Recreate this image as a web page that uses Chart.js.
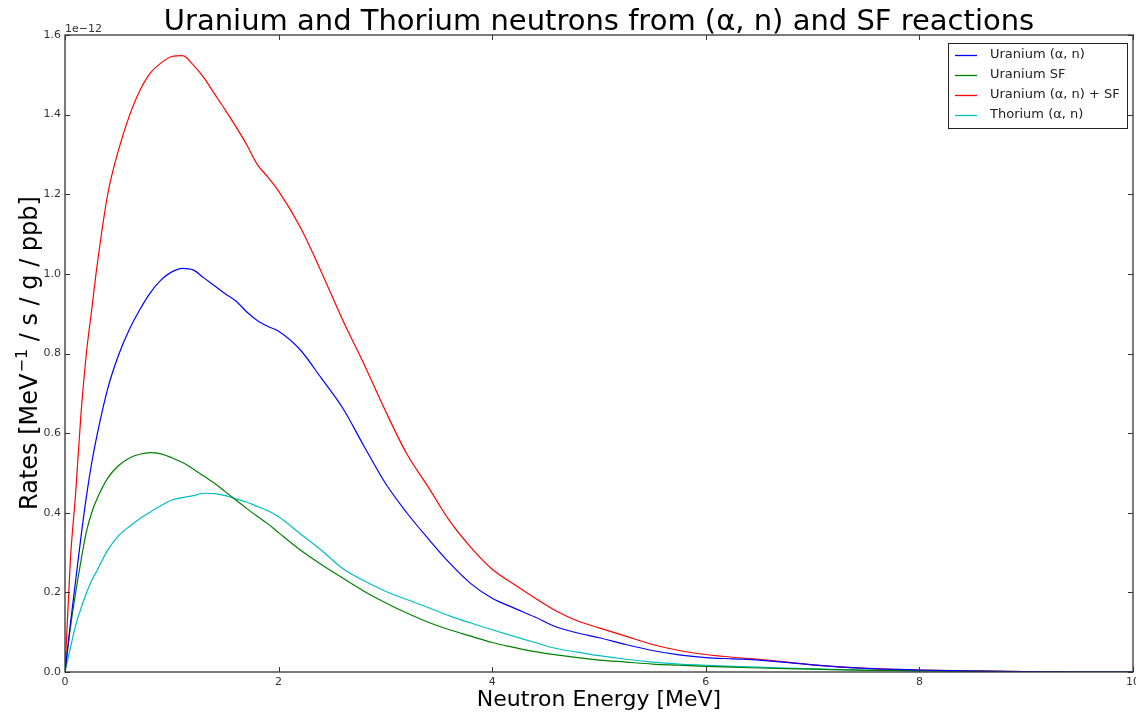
<!DOCTYPE html>
<html>
<head>
<meta charset="utf-8">
<script src="https://cdn.jsdelivr.net/npm/chart.js@4"></script>
<style>
  html, body { margin: 0; padding: 0; background: #fff; }
  #chart { display: block; }
</style>
</head>
<body>
<canvas id="chart" width="1136" height="712"></canvas>
<script>
// neutron energy in MeV
const energy = [0, 0.05, 0.1, 0.15, 0.2, 0.25, 0.3, 0.4, 0.5, 0.6, 0.7, 0.8, 0.9, 1.0, 1.1, 1.2, 1.3, 1.4, 1.5, 1.6, 1.7, 1.8, 1.9, 2.0,
  2.2, 2.4, 2.6, 2.8, 3.0, 3.2, 3.4, 3.6, 3.8, 4.0, 4.2, 4.4, 4.6, 4.8, 5.0, 5.25, 5.5, 5.75, 6.0, 6.25, 6.5, 7.0, 7.5, 8.0, 8.5, 9.0, 9.5, 10];

// rates in units of 1e-12 MeV^-1 / s / g / ppb
const uraniumAlphaN = [0, 0.12, 0.23, 0.34, 0.44, 0.525, 0.595, 0.712, 0.795, 0.859, 0.91, 0.953, 0.985, 1.005, 1.014, 1.01, 0.99, 0.97, 0.95, 0.932, 0.905, 0.883, 0.868, 0.856,
  0.81, 0.738, 0.663, 0.567, 0.474, 0.40, 0.335, 0.274, 0.222, 0.185, 0.161, 0.138, 0.113, 0.098, 0.086, 0.069, 0.054, 0.043, 0.036, 0.033, 0.030, 0.018, 0.009, 0.005, 0.002, 0.001, 0, 0];
const uraniumSF = [0, 0.11, 0.2, 0.28, 0.352, 0.40, 0.435, 0.487, 0.518, 0.537, 0.547, 0.551, 0.548, 0.538, 0.526, 0.51, 0.492, 0.474, 0.453, 0.432, 0.411, 0.391, 0.372, 0.35,
  0.307, 0.27, 0.236, 0.203, 0.174, 0.148, 0.125, 0.106, 0.09, 0.074, 0.062, 0.051, 0.043, 0.036, 0.030, 0.025, 0.020, 0.017, 0.014, 0.012, 0.010, 0.007, 0.004, 0.003, 0.002, 0.001, 0, 0];
const uraniumTotal = [0, 0.28, 0.45, 0.65, 0.80, 0.91, 1.02, 1.20, 1.31, 1.395, 1.46, 1.505, 1.53, 1.546, 1.548, 1.525, 1.493, 1.452, 1.412, 1.37, 1.325, 1.275, 1.243, 1.208,
  1.119, 1.005, 0.884, 0.773, 0.656, 0.548, 0.465, 0.38, 0.313, 0.258, 0.221, 0.186, 0.153, 0.128, 0.111, 0.09, 0.069, 0.054, 0.044, 0.037, 0.032, 0.018, 0.009, 0.005, 0.003, 0.001, 0, 0];
const thoriumAlphaN = [0, 0.06, 0.117, 0.16, 0.198, 0.23, 0.255, 0.306, 0.342, 0.365, 0.385, 0.402, 0.418, 0.432, 0.438, 0.443, 0.449, 0.448, 0.443, 0.435, 0.427, 0.416, 0.405, 0.39,
  0.348, 0.306, 0.26, 0.229, 0.203, 0.182, 0.162, 0.141, 0.123, 0.106, 0.09, 0.074, 0.059, 0.05, 0.041, 0.032, 0.025, 0.02, 0.017, 0.014, 0.012, 0.008, 0.005, 0.003, 0.002, 0.001, 0, 0];

const seriesLabels = ['Uranium (α, n)', 'Uranium SF', 'Uranium (α, n) + SF', 'Thorium (α, n)'];
const seriesColors = ['#0000ff', '#008000', '#ff0000', '#00bfbf'];
const xTicks = [0, 2, 4, 6, 8, 10];
const yTicks = [0, 0.2, 0.4, 0.6, 0.8, 1.0, 1.2, 1.4, 1.6];

const FONT = '"DejaVu Sans", sans-serif';

const series = [uraniumAlphaN, uraniumSF, uraniumTotal, thoriumAlphaN];

const datasets = series.map((vals, i) => ({
  label: seriesLabels[i],
  data: energy.map((e, j) => ({ x: e, y: vals[j] })),
  borderColor: seriesColors[i],
  borderWidth: 1.2,
  pointRadius: 0,
  fill: false,
  cubicInterpolationMode: 'monotone'
}));

// matplotlib style decorations: frame, inside ticks, titles, legend
const decorations = {
  id: 'decorations',
  afterDraw(chart) {
    const ctx = chart.ctx;
    const a = chart.chartArea;
    const xs = chart.scales.x, ys = chart.scales.y;
    ctx.save();

    // frame
    ctx.strokeStyle = '#333';
    ctx.lineWidth = 1.3;
    ctx.strokeRect(a.left, a.top, a.right - a.left, a.bottom - a.top);

    // inside ticks
    ctx.lineWidth = 1;
    ctx.strokeStyle = '#333';
    ctx.beginPath();
    xTicks.forEach(v => {
      const px = Math.round(xs.getPixelForValue(v)) + 0.5;
      ctx.moveTo(px, a.bottom); ctx.lineTo(px, a.bottom - 5);
      ctx.moveTo(px, a.top); ctx.lineTo(px, a.top + 5);
    });
    yTicks.forEach(v => {
      const py = Math.round(ys.getPixelForValue(v)) + 0.5;
      ctx.moveTo(a.left, py); ctx.lineTo(a.left + 5, py);
      ctx.moveTo(a.right, py); ctx.lineTo(a.right - 5, py);
    });
    ctx.stroke();

    // offset text
    ctx.fillStyle = '#333';
    ctx.font = '11px ' + FONT;
    ctx.textAlign = 'left';
    ctx.textBaseline = 'alphabetic';
    ctx.fillText('1e\u221212', a.left, a.top - 3);

    // title
    ctx.fillStyle = '#000';
    ctx.font = '29px ' + FONT;
    ctx.textAlign = 'center';
    ctx.fillText('Uranium and Thorium neutrons from (α, n) and SF reactions', (a.left + a.right) / 2, 30);

    // x label
    ctx.font = '22px ' + FONT;
    ctx.fillText('Neutron Energy [MeV]', (a.left + a.right) / 2, 706);

    // y label, rotated, with superscript
    ctx.save();
    ctx.translate(37, (a.top + a.bottom) / 2);
    ctx.rotate(-Math.PI / 2);
    const p1 = 'Rates [MeV', p2 = '\u22121', p3 = ' / s / g / ppb]';
    ctx.font = '24px ' + FONT;
    const w1 = ctx.measureText(p1).width, w3 = ctx.measureText(p3).width;
    ctx.font = '16px ' + FONT;
    const w2 = ctx.measureText(p2).width;
    const x0 = -(w1 + w2 + w3) / 2;
    ctx.textAlign = 'left';
    ctx.font = '24px ' + FONT;
    ctx.fillText(p1, x0, 0);
    ctx.font = '16px ' + FONT;
    ctx.fillText(p2, x0 + w1 + 1, -10);
    ctx.font = '24px ' + FONT;
    ctx.fillText(p3, x0 + w1 + w2 + 1, 0);
    ctx.restore();

    // legend
    const lx = 948, ly = 43, lw = 179, lh = 85;
    ctx.fillStyle = '#fff';
    ctx.fillRect(lx, ly, lw, lh);
    ctx.strokeStyle = '#222';
    ctx.lineWidth = 1;
    ctx.strokeRect(lx + 0.5, ly + 0.5, lw, lh);
    ctx.font = '13px ' + FONT;
    ctx.textAlign = 'left';
    ctx.textBaseline = 'middle';
    seriesLabels.forEach((lab, i) => {
      const y = ly + 12 + i * 20;
      ctx.strokeStyle = seriesColors[i];
      ctx.lineWidth = 1.3;
      ctx.beginPath();
      ctx.moveTo(955, y + 0.5); ctx.lineTo(977, y + 0.5);
      ctx.stroke();
      ctx.fillStyle = '#222';
      ctx.fillText(lab, 990, y);
    });
    ctx.restore();
  }
};

new Chart(document.getElementById('chart'), {
  type: 'line',
  data: { datasets },
  options: {
    responsive: false,
    animation: false,
    layout: { padding: { left: 0, top: 35, right: 3, bottom: 0 } },
    plugins: { legend: { display: false }, title: { display: false }, tooltip: { enabled: false } },
    scales: {
      x: {
        type: 'linear',
        min: 0, max: 10,
        afterBuildTicks: s => { s.ticks = xTicks.map(v => ({ value: v })); },
        afterFit: s => { s.height = 40; s.paddingLeft = 0; s.paddingRight = 0; },
        grid: { display: false, drawTicks: false },
        border: { display: false },
        ticks: { color: '#333', font: { family: FONT, size: 11 }, padding: 4, maxRotation: 0, callback: v => String(v) }
      },
      y: {
        type: 'linear',
        min: 0, max: 1.6,
        afterBuildTicks: s => { s.ticks = yTicks.map(v => ({ value: v })); },
        afterFit: s => { s.width = 65; s.paddingTop = 0; s.paddingBottom = 0; },
        grid: { display: false, drawTicks: false },
        border: { display: false },
        ticks: { color: '#333', font: { family: FONT, size: 11 }, padding: 4, callback: v => v.toFixed(1) }
      }
    }
  },
  plugins: [decorations]
});
</script>
</body>
</html>
